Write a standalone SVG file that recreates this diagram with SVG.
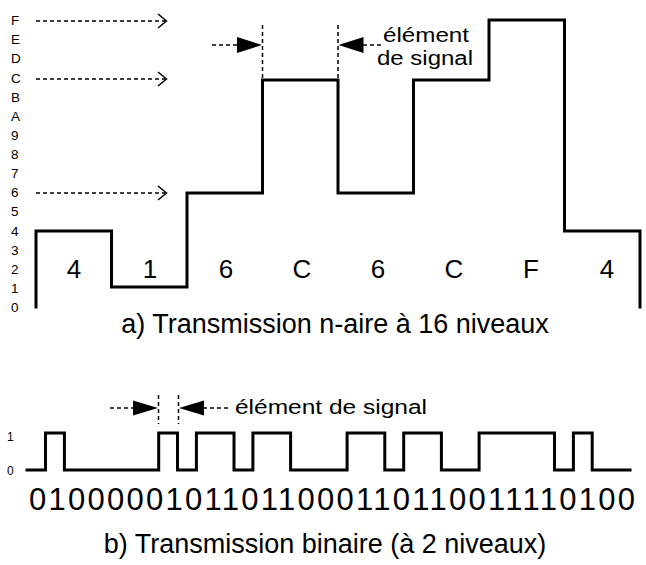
<svg xmlns="http://www.w3.org/2000/svg" width="646" height="565" viewBox="0 0 646 565">
  <style>
    text { font-family: "Liberation Sans", Arial, sans-serif; fill: #000; }
    .axis { font-size: 13.5px; }
    .sym { font-size: 26px; text-anchor: middle; }
    .cap { font-size: 27px; text-anchor: middle; }
    .note { font-size: 20px; }
    .sig { fill: none; stroke: #000; stroke-width: 3; stroke-linejoin: miter; stroke-linecap: square; }
    .dash { fill: none; stroke: #000; stroke-width: 1.5; stroke-dasharray: 4 3; }
    .chev { fill: none; stroke: #000; stroke-width: 1.5; }
    .tri { fill: #000; stroke: none; }
  </style>

  <!-- level scale 0..F -->
  <g id="scale" class="axis">
    <text x="11" y="25">F</text>
    <text x="11" y="44">E</text>
    <text x="11" y="63">D</text>
    <text x="11" y="83">C</text>
    <text x="11" y="102">B</text>
    <text x="11" y="121">A</text>
    <text x="11" y="140">9</text>
    <text x="11" y="159">8</text>
    <text x="11" y="178">7</text>
    <text x="11" y="197">6</text>
    <text x="11" y="216">5</text>
    <text x="11" y="236">4</text>
    <text x="11" y="255">3</text>
    <text x="11" y="274">2</text>
    <text x="11" y="293">1</text>
    <text x="11" y="312">0</text>
  </g>

  <!-- dashed level pointers -->
  <g id="level-pointers">
    <line class="dash" x1="36" y1="21" x2="165" y2="21"/>
    <polyline class="chev" points="158,14 166.5,21 158,28"/>
    <line class="dash" x1="36" y1="79" x2="165" y2="79"/>
    <polyline class="chev" points="158,72 166.5,79 158,86"/>
    <line class="dash" x1="36" y1="193" x2="165" y2="193"/>
    <polyline class="chev" points="158,186 166.5,193 158,200"/>
  </g>

  <!-- 16-level signal -->
  <g id="signal-16">
    <path class="sig" d="M36,307 V231 H111.5 V287 H187 V193 H262.5 V80 H338 V193 H413.5 V80 H489 V20 H564.5 V231 H640 V307"/>
    <text class="sym" x="74" y="278">4</text>
    <text class="sym" x="150" y="278">1</text>
    <text class="sym" x="226" y="278">6</text>
    <text class="sym" x="302" y="278">C</text>
    <text class="sym" x="378" y="278">6</text>
    <text class="sym" x="454" y="278">C</text>
    <text class="sym" x="531" y="278">F</text>
    <text class="sym" x="607" y="278">4</text>
  </g>

  <!-- signal element marker (16 levels) -->
  <g id="element-16">
    <line class="dash" x1="262.5" y1="25" x2="262.5" y2="80"/>
    <line class="dash" x1="338" y1="25" x2="338" y2="80"/>
    <line class="dash" x1="212" y1="45" x2="237" y2="45"/>
    <polygon class="tri" points="237,37 262,45 237,53"/>
    <polygon class="tri" points="338.5,45 363.5,37 363.5,53"/>
    <line class="dash" x1="363" y1="45" x2="382" y2="45"/>
    <text class="note" x="383" y="42" textLength="86" lengthAdjust="spacingAndGlyphs">élément</text>
    <text class="note" x="377" y="65" textLength="96" lengthAdjust="spacingAndGlyphs">de signal</text>
  </g>

  <text id="caption-a" class="cap" x="335" y="333">a) Transmission n-aire à 16 niveaux</text>

  <!-- binary scale -->
  <g id="scale-binary" class="axis">
    <text x="7" y="441" style="font-size:12px">1</text>
    <text x="7" y="475" style="font-size:12px">0</text>
  </g>

  <!-- signal element marker (binary) -->
  <g id="element-2">
    <line class="dash" x1="158.5" y1="395" x2="158.5" y2="424"/>
    <line class="dash" x1="178.5" y1="395" x2="178.5" y2="424"/>
    <line class="dash" x1="110" y1="408" x2="134" y2="408"/>
    <polygon class="tri" points="133,400.5 158,408 133,415.5"/>
    <polygon class="tri" points="179,408 204,400.5 204,415.5"/>
    <line class="dash" x1="203" y1="408" x2="230" y2="408"/>
    <text class="note" x="235" y="414" textLength="192" lengthAdjust="spacingAndGlyphs">élément de signal</text>
  </g>

  <!-- binary signal, one digit per bit period -->
  <g id="signal-2">
    <path class="sig" d="M27,470 H45.5 V433 H64.4 V470 H158.7 V433 H177.5 V470 H196.4 V433 H234 V470 H252.9 V433 H290.6 V470 H347.1 V433 H384.8 V470 H403.7 V433 H441.4 V470 H479.1 V433 H554.5 V470 H573.4 V433 H592.2 V470 H630"/>
    <text x="29" y="510" style="font-size:31px" textLength="606" lengthAdjust="spacing">01000001011011000110110011110100</text>
  </g>

  <text id="caption-b" class="cap" x="325" y="553">b) Transmission binaire (à 2 niveaux)</text>
</svg>
